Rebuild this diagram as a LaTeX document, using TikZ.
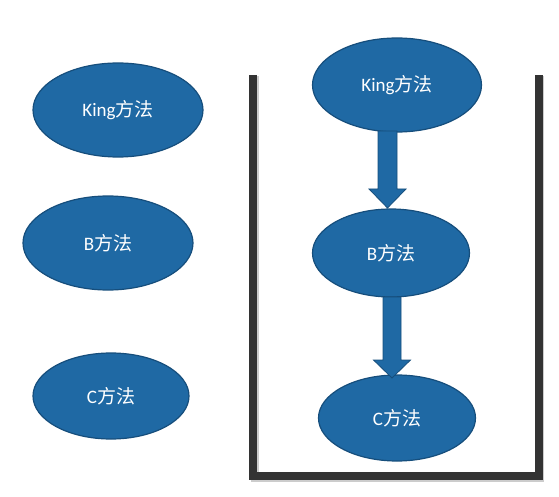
\documentclass[tikz,border=0pt]{standalone}
\usepackage{fontspec}
\setmainfont{Carlito}
\newfontfamily\cjk{Noto Sans CJK SC}
\usetikzlibrary{shapes.geometric,calc}
\definecolor{bluefill}{RGB}{31,105,164}
\definecolor{blueedge}{RGB}{22,78,124}
\definecolor{wall}{RGB}{51,51,51}
\tikzset{
  method/.style={ellipse,fill=bluefill,draw=blueedge,line width=1.2pt,inner sep=0pt,
    text=white,font=\fontsize{19}{22}\selectfont},
  blockarrow/.style={fill=bluefill,draw=blueedge,line width=0.8pt},
}
\newcommand{\blockarr}[4]{% start, end, half shaft, head length
  \filldraw[blockarrow] let \p1=(#1), \p2=(#2) in
    (\x1-#3,\y1) -- (\x1-#3,\y2+#4) -- (\x1-18.5pt,\y2+#4) -- (\x1,\y2)
    -- (\x1+18.5pt,\y2+#4) -- (\x1+#3,\y2+#4) -- (\x1+#3,\y1) -- cycle;}
\begin{document}
\begin{tikzpicture}[x=1pt,y=-1pt]
\useasboundingbox (0,0) rectangle (559,497);
% container
\coordinate (wtl) at (253,75);
\coordinate (wbl) at (253,476);
\coordinate (wbr) at (538.5,476);
\coordinate (wtr) at (538.5,75);
\draw[gray!40,line width=8pt] ($(wtl)+(1.5,1.5)$) -- ($(wbl)+(1.5,1.5)$) -- ($(wbr)+(1.5,1.5)$) -- ($(wtr)+(1.5,1.5)$);
\draw[wall,line width=8pt] (wtl) -- (wbl) -- (wbr) -- (wtr);
% left nodes
\node[method,minimum width=170,minimum height=94] (kl) at (118,110) {King\cjk 方法};
\node[method,minimum width=170,minimum height=94] (bl) at (108,243) {B\cjk 方法};
\node[method,minimum width=156,minimum height=86] (cl) at (111,396) {C\cjk 方法};
% right nodes
\node[method,minimum width=169,minimum height=94] (kr) at (397,85) {King\cjk 方法};
\node[method,minimum width=157,minimum height=88] (br) at (391,253) {B\cjk 方法};
\node[method,minimum width=157,minimum height=86] (cr) at (397,418) {C\cjk 方法};
% arrows
\coordinate (a1s) at (387.5,131);
\coordinate (a1e) at (387.5,208);
\coordinate (a2s) at (392,297);
\coordinate (a2e) at (392,378);
\blockarr{a1s}{a1e}{9.5pt}{19pt}
\blockarr{a2s}{a2e}{9pt}{18pt}
\end{tikzpicture}
\end{document}
